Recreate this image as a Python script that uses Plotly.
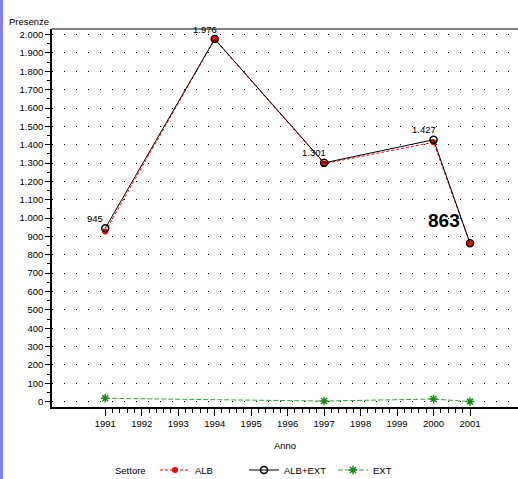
import plotly.graph_objects as go

years = [1991, 1994, 1997, 2000, 2001]
alb = [927, 1974, 1297, 1413, 862]
alb_ext = [945, 1976, 1301, 1427, 863]
ext_years = [1991, 1997, 2000, 2001]
ext = [18, 3, 14, 0]
x_ticks = list(range(1991, 2002))

FONT = "Liberation Sans Narrow, Arial Narrow, Liberation Sans, Arial, sans-serif"
FS = 9.5

W, H = 518, 479
ML, MR, MT, MB = 52, 0, 29, 72
PW = W - ML - MR
PH = H - MT - MB

fig = go.Figure()
fig.add_trace(go.Scatter(x=years, y=alb, name="ALB", mode="lines+markers",
                         line=dict(color="#ff0000", width=1, dash="3px,2px"),
                         marker=dict(symbol="circle", size=6, color="#ff0000")))
fig.add_trace(go.Scatter(x=years, y=alb_ext, name="ALB+EXT", mode="lines+markers",
                         line=dict(color="#000000", width=1),
                         marker=dict(symbol="circle-open", size=7, color="#000000",
                                     line=dict(width=1.5))))
fig.add_trace(go.Scatter(x=ext_years, y=ext, name="EXT", mode="lines+markers",
                         line=dict(color="#3aa03a", width=1, dash="5px,2px"),
                         marker=dict(symbol="asterisk-open", size=7, color="#1a8a1a",
                                     line=dict(width=1.5, color="#1a8a1a"))))

def fmt(v):
    return f"{v:,}".replace(",", ".")

# value labels on the ALB+EXT series
for i, (xv, yv) in enumerate(zip(years, alb_ext)):
    last = i == len(years) - 1
    fig.add_annotation(x=xv, y=yv, text=(f"<b>{fmt(yv)}</b>" if last else fmt(yv)),
                       showarrow=False, xanchor="center", yanchor="middle",
                       xshift=-26 if last else -10, yshift=23 if last else 10,
                       font=dict(family=FONT, size=19 if last else FS, color="#000"))

fig.add_annotation(text="Presenze", xref="paper", yref="paper",
                   x=(29 - ML) / PW, y=1 + (MT - 22) / PH,
                   showarrow=False, xanchor="center", yanchor="middle",
                   font=dict(family=FONT, size=FS, color="#000"))

LEG_Y = -(470 - (H - MB)) / PH
fig.add_annotation(text="Settore", xref="paper", yref="paper",
                   x=(130 - ML) / PW, y=LEG_Y,
                   showarrow=False, xanchor="center", yanchor="middle",
                   font=dict(family=FONT, size=FS, color="#000"))

# top gray frame line
fig.add_shape(type="line", xref="paper", yref="paper", x0=0, x1=1, y0=1, y1=1,
              line=dict(color="#808080", width=2))
# blue page border on left edge
fig.add_shape(type="rect", xref="paper", yref="paper",
              x0=(0 - ML) / PW, x1=(3 - ML) / PW, y0=-1, y1=2,
              line=dict(width=0), fillcolor="#8080ff")

fig.update_layout(
    width=W, height=H,
    margin=dict(l=ML, r=MR, t=MT, b=MB, autoexpand=False),
    paper_bgcolor="white", plot_bgcolor="white",
    separators=",.",
    font=dict(family=FONT, size=FS, color="#000"),
    showlegend=True,
    legend=dict(orientation="h", x=(155 - ML) / PW, y=LEG_Y,
                xanchor="left", yanchor="middle",
                font=dict(size=FS), entrywidth=44, bgcolor="rgba(0,0,0,0)"),
    xaxis=dict(range=[1989.54, 2002.315], tickmode="array", tickvals=x_ticks,
               automargin=False,
               ticks="outside", ticklen=7, tickcolor="#000", tickwidth=1,
               showline=True, linecolor="#000", linewidth=1.5,
               showgrid=False, zeroline=False,
               tickfont=dict(size=FS),
               minor=dict(tickmode="array",
                          tickvals=[y + k / 5 for y in x_ticks[:-1] for k in range(1, 5)],
                          ticks="outside", ticklen=4, tickcolor="#000", showgrid=False),
               title=dict(text="Anno", font=dict(size=FS), standoff=14)),
    yaxis=dict(range=[-29.4, 2030.5], tickmode="linear", tick0=0, dtick=100,
               automargin=False,
               tickformat=",d",
               ticks="outside", ticklen=5, tickcolor="#000", tickwidth=1,
               showline=True, linecolor="#000", linewidth=1.5,
               showgrid=True, gridcolor="#000", gridwidth=1, griddash="1px,11px",
               zeroline=False, tickfont=dict(size=FS),
               minor=dict(dtick=50, tick0=0, ticks="outside", ticklen=3,
                          tickcolor="#000", showgrid=False)),
)

fig.write_html("out.html", config={"displayModeBar": False},
               post_script="document.body.style.margin='0';document.body.style.overflow='hidden';")
